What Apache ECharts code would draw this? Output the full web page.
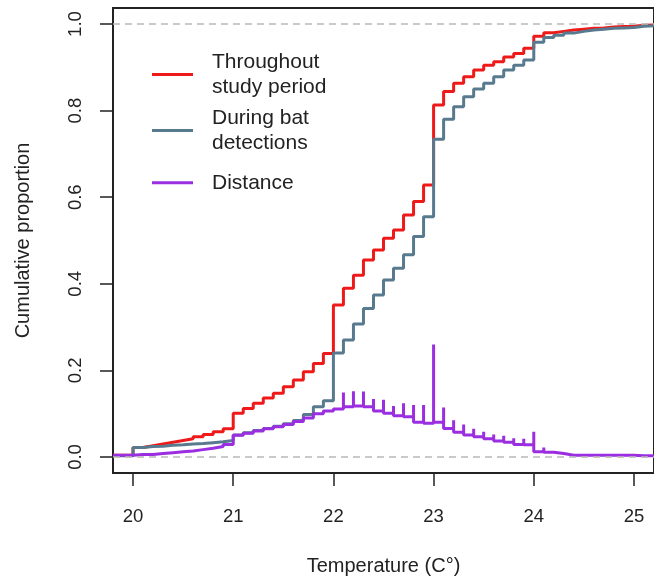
<!DOCTYPE html>
<html>
<head>
<meta charset="utf-8">
<script src="https://cdn.jsdelivr.net/npm/echarts@6/dist/echarts.min.js"></script>
<style>
  html, body { margin: 0; padding: 0; background: #fff; }
  #chart { width: 654px; height: 582px; }
</style>
</head>
<body>
<div id="chart"></div>
<script>
// temperature grid (C), one step every 0.1 degree
var temps = [19.8, 20.0, 20.1, 20.2, 20.3, 20.4, 20.5, 20.6, 20.7, 20.8, 20.9,
	21.0, 21.1, 21.2, 21.3, 21.4, 21.5, 21.6, 21.7, 21.8, 21.9,
	22.0, 22.1, 22.2, 22.3, 22.4, 22.5, 22.6, 22.7, 22.8, 22.9,
	23.0, 23.1, 23.2, 23.3, 23.4, 23.5, 23.6, 23.7, 23.8, 23.9,
	24.0, 24.1, 24.2, 24.3, 24.4, 24.5, 24.6, 24.7, 24.8, 24.9,
	25.0, 25.1, 25.2];

// cumulative proportion, whole study period
var studyPeriod = [0.004, 0.022, 0.026, 0.030, 0.034, 0.038, 0.042, 0.047, 0.052, 0.058, 0.065,
	0.101, 0.112, 0.124, 0.136, 0.147, 0.162, 0.178, 0.197, 0.216, 0.239,
	0.351, 0.390, 0.420, 0.455, 0.478, 0.505, 0.524, 0.559, 0.590, 0.628,
	0.813, 0.844, 0.863, 0.878, 0.894, 0.905, 0.913, 0.924, 0.932, 0.944,
	0.972, 0.980, 0.983, 0.986, 0.988, 0.990, 0.991, 0.993, 0.994, 0.995,
	0.997, 0.998, 0.998];

// cumulative proportion, during bat detections
var batDetections = [0.003, 0.022, 0.024, 0.025, 0.027, 0.028, 0.030, 0.031, 0.033, 0.035, 0.038,
	0.051, 0.056, 0.061, 0.066, 0.071, 0.077, 0.084, 0.098, 0.116, 0.130,
	0.240, 0.270, 0.307, 0.343, 0.374, 0.409, 0.436, 0.467, 0.509, 0.555,
	0.734, 0.780, 0.809, 0.832, 0.850, 0.863, 0.878, 0.894, 0.905, 0.917,
	0.958, 0.969, 0.974, 0.979, 0.983, 0.986, 0.988, 0.990, 0.991, 0.992,
	0.995, 0.996, 0.996];

// distance between the two curves (level after each step)
var distance = [0.004, 0.006, 0.006, 0.008, 0.010, 0.012, 0.014, 0.017, 0.020, 0.024, 0.029,
	0.050, 0.055, 0.060, 0.065, 0.070, 0.075, 0.082, 0.090, 0.100, 0.106,
	0.111, 0.116, 0.118, 0.116, 0.106, 0.101, 0.095, 0.093, 0.080, 0.078,
	0.080, 0.066, 0.057, 0.051, 0.047, 0.042, 0.037, 0.034, 0.029, 0.028,
	0.012, 0.011, 0.008, 0.004, 0.004, 0.004, 0.004, 0.004, 0.004, 0.004,
	0.003, 0.003, 0.003];

// peak of the distance spike at each step (null = no spike)
var distanceSpike = [null, null, null, null, null, null, null, null, null, null, null,
	null, null, null, null, null, null, null, null, null, null,
	null, 0.149, 0.152, 0.151, 0.134, 0.132, 0.118, 0.124, 0.120, 0.120,
	0.260, 0.114, 0.085, 0.075, 0.065, 0.058, 0.052, 0.049, 0.043, 0.042,
	0.058, 0.022, 0.014, null, null, null, null, null, null, null,
	0.008, null, null];

var xTicks = [20, 21, 22, 23, 24, 25];
var yTicks = [0, 0.2, 0.4, 0.6, 0.8, 1.0];
var refLines = [0, 1];

var names = ['Throughout\nstudy period', 'During bat\ndetections', 'Distance'];
var colors = ['#ee1a1a', '#587a8e', '#9a2ee0'];
var fontFamily = '"Liberation Sans", Arial, Helvetica, sans-serif';

function zipSteps(ys) {
	return temps.map(function (t, i) { return [t, ys[i]]; });
}

function distanceSteps() {
	var out = [];
	temps.forEach(function (t, i) {
		if (distanceSpike[i] !== null) {
			out.push([t, distanceSpike[i]]);
		}
		out.push([t, distance[i]]);
	});
	return out;
}

var chart = echarts.init(document.getElementById('chart'), null, { renderer: 'canvas' });

var legendText = {
	fontFamily: fontFamily,
	fontSize: 21,
	lineHeight: 25.5,
	color: '#222',
	padding: [0, 0, 0, 14]
};

chart.setOption({
	animation: false,
	backgroundColor: '#fff',
	textStyle: { fontFamily: fontFamily },
	grid: {
		left: 113,
		right: -4,
		top: 8,
		bottom: 109,
		show: true,
		borderColor: '#222',
		borderWidth: 2,
		containLabel: false
	},
	legend: [
		{
			data: names.slice(0, 2),
			orient: 'vertical',
			left: 152,
			top: 49,
			padding: 0,
			itemGap: 5,
			icon: 'rect',
			itemWidth: 41,
			itemHeight: 3,
			textStyle: legendText
		},
		{
			data: names.slice(2),
			orient: 'vertical',
			left: 152,
			top: 170,
			padding: 0,
			icon: 'rect',
			itemWidth: 41,
			itemHeight: 3,
			textStyle: legendText
		}
	],
	xAxis: {
		type: 'value',
		min: 19.8,
		max: 25.2,
		name: 'Temperature (C°)',
		nameLocation: 'middle',
		nameGap: 83,
		nameTextStyle: { fontSize: 20, color: '#222' },
		axisLine: { show: false, onZero: false },
		axisTick: {
			show: true,
			customValues: xTicks,
			length: 13,
			lineStyle: { color: '#222', width: 1.5 }
		},
		axisLabel: {
			customValues: xTicks,
			fontSize: 18.5,
			color: '#222',
			margin: 34
		},
		splitLine: { show: false }
	},
	yAxis: {
		type: 'value',
		min: -0.037,
		max: 1.037,
		name: 'Cumulative proportion',
		nameLocation: 'middle',
		nameRotate: 90,
		nameGap: 80,
		nameTextStyle: { fontSize: 20, color: '#222' },
		axisLine: { show: false, onZero: false },
		axisTick: {
			show: true,
			customValues: yTicks,
			length: 13,
			lineStyle: { color: '#222', width: 1.5 }
		},
		axisLabel: {
			customValues: yTicks,
			rotate: 90,
			fontSize: 18.5,
			color: '#222',
			margin: 28,
			formatter: function (v) { return v.toFixed(1); }
		},
		splitLine: { show: false }
	},
	series: [
		{
			name: names[0],
			type: 'line',
			step: 'end',
			symbol: 'none',
			data: zipSteps(studyPeriod),
			lineStyle: { color: colors[0], width: 3 },
			itemStyle: { color: colors[0] },
			markLine: {
				silent: true,
				symbol: 'none',
				label: { show: false },
				lineStyle: { color: '#b8b8b8', type: [7, 5], width: 1.5 },
				data: refLines.map(function (v) { return { yAxis: v }; })
			}
		},
		{
			name: names[1],
			type: 'line',
			step: 'end',
			symbol: 'none',
			data: zipSteps(batDetections),
			lineStyle: { color: colors[1], width: 3 },
			itemStyle: { color: colors[1] }
		},
		{
			name: names[2],
			type: 'line',
			step: 'end',
			symbol: 'none',
			data: distanceSteps(),
			lineStyle: { color: colors[2], width: 3 },
			itemStyle: { color: colors[2] }
		}
	]
});
</script>
</body>
</html>
